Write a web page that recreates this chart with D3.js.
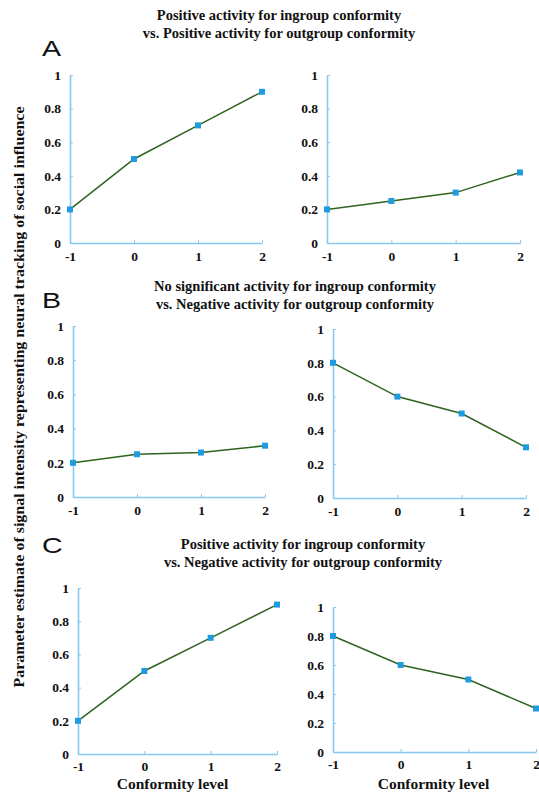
<!DOCTYPE html>
<html>
<head>
<meta charset="utf-8">
<script src="https://cdn.jsdelivr.net/npm/d3@7"></script>
<style>
  body { margin: 0; background: #fff; }
  svg { display: block; }
</style>
</head>
<body>
<div id="chart"></div>
<script>
// conformity levels on the x axis
const levels = [-1, 0, 1, 2];
const yTicks = [0, 0.2, 0.4, 0.6, 0.8, 1];

// parameter estimates, one array per small plot
const aIngroup = [0.2, 0.5, 0.7, 0.9];
const aOutgroup = [0.2, 0.25, 0.3, 0.42];
const bIngroup = [0.2, 0.25, 0.26, 0.3];
const bOutgroup = [0.8, 0.6, 0.5, 0.3];
const cIngroup = [0.2, 0.5, 0.7, 0.9];
const cOutgroup = [0.8, 0.6, 0.5, 0.3];

const panelLetters = ["A", "B", "C"];
const panelTitles = [
  ["Positive activity for ingroup conformity", "vs. Positive activity for outgroup conformity"],
  ["No significant activity for ingroup conformity", "vs. Negative activity for outgroup conformity"],
  ["Positive activity for ingroup conformity", "vs. Negative activity for outgroup conformity"]
];
const yLabel = "Parameter estimate of signal intensity representing neural tracking of social influence";
const xLabel = "Conformity level";

const width = 539, height = 792;
const serif = "'Liberation Serif', 'Times New Roman', serif";
const axisColor = "#86c8ef";
const lineColor = "#2f6320";
const markColor = "#1f9be0";

// layout of each plot: [x left, x right, y bottom, y top]
const plots = [
  {values: aIngroup, box: [70, 262, 243, 75]},
  {values: aOutgroup, box: [327, 520, 243, 75]},
  {values: bIngroup, box: [73, 265, 497, 326]},
  {values: bOutgroup, box: [333, 526, 498, 329]},
  {values: cIngroup, box: [78, 277, 754, 588], xLabel: true},
  {values: cOutgroup, box: [333, 536, 752, 607], xLabel: true}
];

const svg = d3.select("#chart").append("svg")
  .attr("width", width)
  .attr("height", height);

// panel letters and titles
const letterPos = [56, 308, 553];
const titlePos = [[279, 20, 38], [295, 291, 309], [303, 549, 567]];

panelLetters.forEach((l, i) => {
  svg.append("text")
    .attr("transform", `translate(42,${letterPos[i]}) scale(1.3,1)`)
    .attr("font-family", "'Liberation Sans', Arial, sans-serif")
    .attr("font-size", 22)
    .attr("fill", "#111")
    .text(l);

  const [cx, y1, y2] = titlePos[i];
  panelTitles[i].forEach((t, j) => {
    svg.append("text")
      .attr("x", cx)
      .attr("y", j === 0 ? y1 : y2)
      .attr("text-anchor", "middle")
      .attr("font-family", serif)
      .attr("font-weight", "bold")
      .attr("font-size", 14.5)
      .attr("fill", "#111")
      .text(t);
  });
});

svg.append("text")
  .attr("transform", "translate(24,397) rotate(-90)")
  .attr("text-anchor", "middle")
  .attr("font-family", serif)
  .attr("font-weight", "bold")
  .attr("font-size", 14.5)
  .attr("fill", "#111")
  .attr("textLength", 581)
  .attr("lengthAdjust", "spacingAndGlyphs")
  .text(yLabel);

plots.forEach(p => {
  const [x0, x1, y0, y1] = p.box;
  const x = d3.scaleLinear([-1, 2], [x0, x1]);
  const y = d3.scaleLinear([0, 1], [y0, y1]);
  const g = svg.append("g");

  const yAxis = g.append("g")
    .attr("transform", `translate(${x0},0)`)
    .call(d3.axisLeft(y).tickValues(yTicks).tickFormat(d3.format("~g"))
      .tickSizeInner(-3).tickSizeOuter(0).tickPadding(9));

  const xAxis = g.append("g")
    .attr("transform", `translate(0,${y0})`)
    .call(d3.axisBottom(x).tickValues(levels).tickFormat(d3.format("d"))
      .tickSizeInner(-3).tickSizeOuter(0).tickPadding(p.xLabel ? 7 : 8));

  [yAxis, xAxis].forEach(a => {
    a.select(".domain").attr("stroke", axisColor).attr("stroke-width", 1.6);
    a.selectAll(".tick line").attr("stroke", axisColor).attr("stroke-width", 1);
    a.selectAll(".tick text")
      .attr("fill", "#111")
      .attr("font-family", serif)
      .attr("font-weight", "bold")
      .attr("font-size", 13.5);
  });
  xAxis.selectAll(".tick text").text(d => d < 0 ? "-" + Math.abs(d) : d);

  const pts = levels.map((l, i) => [l, p.values[i]]);

  g.append("path")
    .datum(pts)
    .attr("fill", "none")
    .attr("stroke", lineColor)
    .attr("stroke-width", 1.5)
    .attr("d", d3.line().x(d => x(d[0])).y(d => y(d[1])));

  g.selectAll("rect.mark")
    .data(pts)
    .join("rect")
    .attr("class", "mark")
    .attr("x", d => x(d[0]) - 3)
    .attr("y", d => y(d[1]) - 3)
    .attr("width", 6)
    .attr("height", 6)
    .attr("fill", markColor);

  if (p.xLabel) {
    g.append("text")
      .attr("x", (x0 + x1) / 2 + (x0 < 200 ? -5 : -1))
      .attr("y", 789)
      .attr("text-anchor", "middle")
      .attr("font-family", serif)
      .attr("font-weight", "bold")
      .attr("font-size", 15.5)
      .attr("fill", "#111")
      .text(xLabel);
  }
});
</script>
</body>
</html>
